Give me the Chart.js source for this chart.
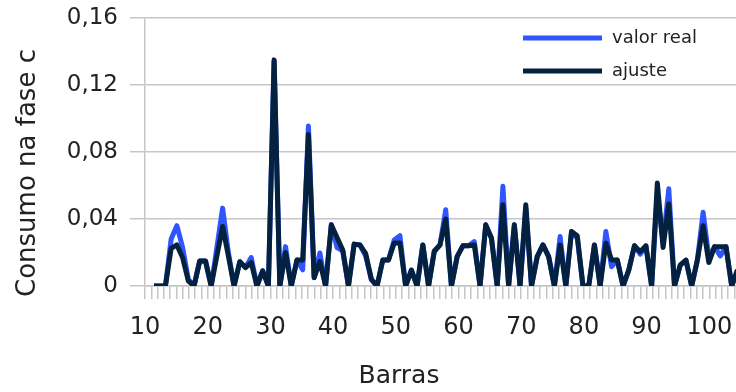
<!DOCTYPE html>
<html lang="pt">
<head>
<meta charset="UTF-8">
<title>Consumo na fase c</title>
<script src="https://cdn.jsdelivr.net/npm/chart.js"></script>
<style>
  html, body { margin: 0; padding: 0; background: #fff; overflow: hidden; }
  #wrap { width: 736px; height: 392px; overflow: hidden; }
</style>
</head>
<body>
<div id="wrap"><canvas id="chart" width="736" height="392"></canvas></div>
<script>
// posição de cada ponto medido (ordem das barras)
const barras = [
  1, 2, 3, 4, 5, 6, 7, 8, 9, 10, 11, 12, 13, 14, 15, 16, 17, 18, 19, 20,
  21, 22, 23, 24, 25, 26, 27, 28, 29, 30, 31, 32, 33, 34, 35, 36, 37, 38, 39, 40,
  41, 42, 43, 44, 45, 46, 47, 48, 49, 50, 51, 52, 53, 54, 55, 56, 57, 58, 59, 60,
  61, 62, 63, 64, 65, 66, 67, 68, 69, 70, 71, 72, 73, 74, 75, 76, 77, 78, 79, 80,
  81, 82, 83, 84, 85, 86, 87, 88, 89, 90, 91, 92, 93, 94, 95, 96, 97, 98, 99, 100,
  101, 102, 103
];

const valorReal = [
  0, 0, 0, 0.028, 0.036, 0.023, 0.004, 0, 0.015, 0.015,
  0, 0.023, 0.0465, 0.020, 0, 0.0145, 0.011, 0.017, 0, 0.009,
  0, 0.134, 0, 0.0235, 0, 0.0155, 0.0097, 0.0955, 0.005, 0.0197,
  0, 0.0365, 0.023, 0.021, 0, 0.025, 0.0245, 0.018, 0.004, 0,
  0.0155, 0.0155, 0.0275, 0.030, 0, 0.0095, 0, 0.0245, 0, 0.021,
  0.0245, 0.0455, 0, 0.0175, 0.024, 0.024, 0.0265, 0, 0.0365, 0.0285,
  0, 0.0595, 0, 0.0365, 0, 0.046, 0, 0.0175, 0.0245, 0.0175,
  0, 0.0295, 0, 0.0325, 0.0285, 0, 0, 0.0245, 0, 0.0325,
  0.0115, 0.0155, 0, 0.0095, 0.024, 0.019, 0.024, 0, 0.055, 0.026,
  0.058, 0, 0.0125, 0.0155, 0, 0.0155, 0.044, 0.017, 0.0235, 0.018,
  0.0235, 0, 0.0095
];

const ajuste = [
  0, 0, 0, 0.0225, 0.0245, 0.017, 0.003, 0, 0.015, 0.015,
  0, 0.018, 0.0355, 0.018, 0, 0.0145, 0.011, 0.014, 0, 0.009,
  0, 0.135, 0, 0.02, 0, 0.0155, 0.0155, 0.0905, 0.005, 0.0146,
  0, 0.0365, 0.029, 0.0215, 0, 0.025, 0.0245, 0.0195, 0.004, 0,
  0.0155, 0.0155, 0.0257, 0.0257, 0, 0.0095, 0, 0.0245, 0, 0.0205,
  0.0245, 0.040, 0, 0.0175, 0.024, 0.024, 0.0245, 0, 0.0365, 0.0285,
  0, 0.0485, 0, 0.0365, 0, 0.0485, 0, 0.0175, 0.0245, 0.0175,
  0, 0.0245, 0, 0.0325, 0.030, 0, 0, 0.0245, 0, 0.0255,
  0.0155, 0.0155, 0, 0.0095, 0.024, 0.0205, 0.024, 0, 0.0615, 0.023,
  0.049, 0, 0.0125, 0.0155, 0, 0.0155, 0.036, 0.014, 0.0235, 0.0235,
  0.0235, 0, 0.0095
];

const ticksX = [10, 20, 30, 40, 50, 60, 70, 80, 90, 100];
const ticksY = [0, 0.04, 0.08, 0.12, 0.16];

const FONT = '"DejaVu Sans", sans-serif';
const TEXT = '#222';
const GRID = '#c6c6c6';

// axis titles + legend drawn over the plot
const extras = {
  id: 'extras',
  afterDraw(chart) {
    const ctx = chart.ctx;
    ctx.save();
    ctx.fillStyle = TEXT;
    ctx.textAlign = 'center';
    ctx.textBaseline = 'middle';
    ctx.font = '25px ' + FONT;
    ctx.fillText('Barras', 399, 376);
    ctx.save();
    ctx.translate(28, 173);
    ctx.rotate(-Math.PI / 2);
    ctx.font = '26px ' + FONT;
    ctx.fillText('Consumo na fase c', 0, 0);
    ctx.restore();

    ctx.font = '18px ' + FONT;
    ctx.textAlign = 'left';
    chart.data.datasets.forEach((ds, i) => {
      const y = 38 + i * 33;
      ctx.strokeStyle = ds.borderColor;
      ctx.lineWidth = 5;
      ctx.beginPath();
      ctx.moveTo(523, y);
      ctx.lineTo(602, y);
      ctx.stroke();
      ctx.fillText(ds.label, 612, y);
    });
    ctx.restore();
  }
};

new Chart(document.getElementById('chart'), {
  type: 'line',
  data: {
    labels: barras,
    datasets: [
      {
        label: 'valor real',
        data: valorReal,
        borderColor: '#2f55ff',
        borderWidth: 5,
        pointRadius: 0,
        tension: 0,
        borderJoinStyle: 'round',
        order: 1
      },
      {
        label: 'ajuste',
        data: ajuste,
        borderColor: '#04213f',
        borderWidth: 5,
        pointRadius: 0,
        tension: 0,
        borderJoinStyle: 'round',
        order: 0
      }
    ]
  },
  options: {
    responsive: false,
    devicePixelRatio: 1,
    animation: false,
    layout: { padding: { top: 18, right: 0, bottom: 0, left: 0 } },
    plugins: {
      legend: { display: false },
      tooltip: { enabled: false }
    },
    scales: {
      x: {
        type: 'linear',
        display: false,
        min: -0.57,
        max: 102.75
      },
      x2: {
        type: 'linear',
        position: 'bottom',
        min: 10,
        max: 104.26,
        grid: {
          drawOnChartArea: false,
          drawTicks: true,
          tickLength: 13,
          color: GRID,
          lineWidth: 1.5
        },
        border: { display: true, color: GRID, width: 1.5 },
        ticks: {
          stepSize: 1,
          autoSkip: false,
          includeBounds: false,
          maxRotation: 0,
          padding: 14,
          color: TEXT,
          font: { family: FONT, size: 24 },
          callback: (v) => ticksX.includes(v) ? String(v) : ''
        },
        afterFit: (scale) => {
          scale.height = 106;
          scale.paddingLeft = 0;
          scale.paddingRight = 0;
        }
      },
      y: {
        min: 0,
        max: 0.16,
        grid: {
          color: GRID,
          lineWidth: 1.5,
          tickLength: 15
        },
        border: { display: true, color: GRID, width: 1.5 },
        ticks: {
          padding: 12,
          color: TEXT,
          font: { family: FONT, size: 23 },
          callback: (v) => v === 0 ? '0' : v.toFixed(2).replace('.', ',')
        },
        afterBuildTicks: (scale) => { scale.ticks = ticksY.map(v => ({ value: v })); },
        afterFit: (scale) => {
          scale.width = 145;
          scale.paddingTop = 0;
          scale.paddingBottom = 0;
        }
      }
    }
  },
  plugins: [extras]
});
</script>
</body>
</html>
